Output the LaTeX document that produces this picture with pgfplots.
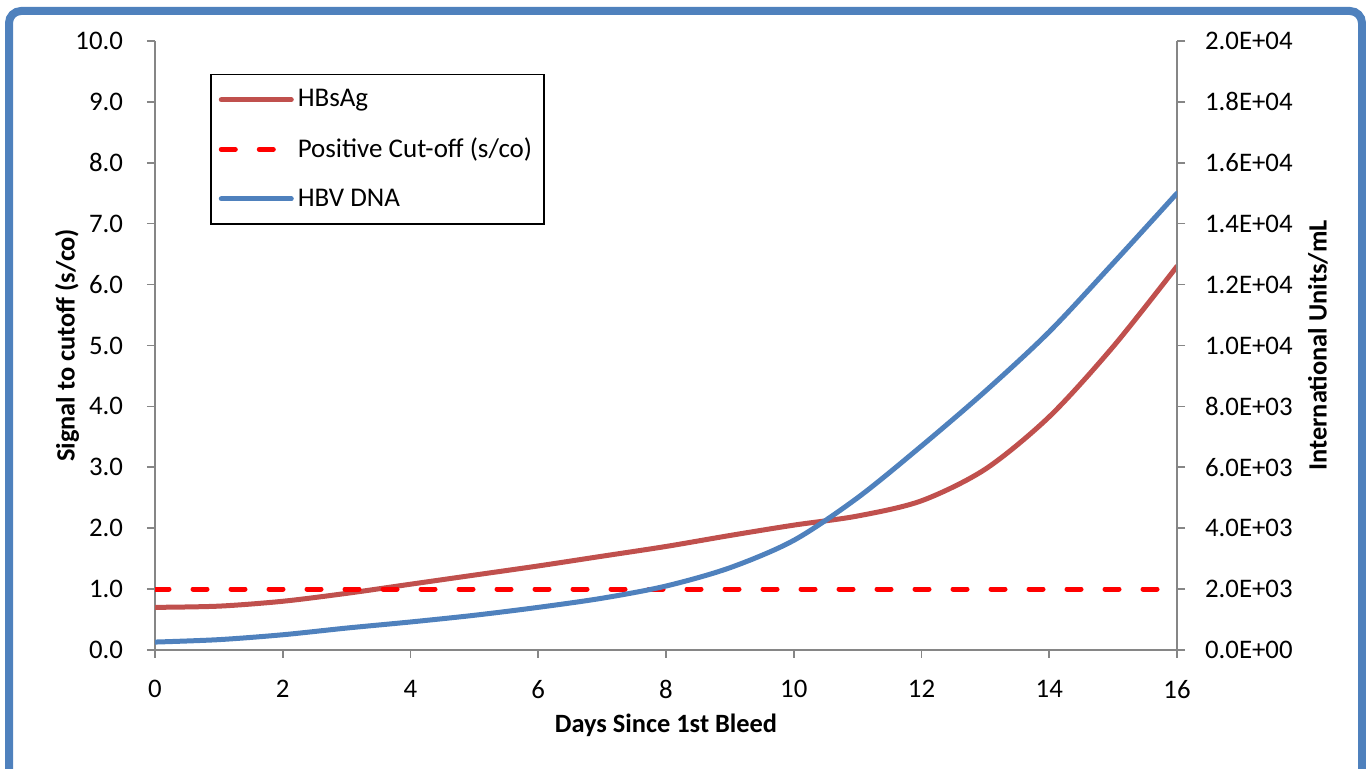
\documentclass[border=0pt]{standalone}
\usepackage{pgfplots}
\pgfplotsset{compat=1.18}
\usepackage{fontspec}
\setmainfont{Carlito}
\definecolor{hbsag}{HTML}{C0504D}
\definecolor{hbv}{HTML}{4F81BD}
\definecolor{axgray}{HTML}{868686}

% 1 px of the reference = 0.5pt
\begin{document}
\begin{tikzpicture}
\useasboundingbox (0,0) rectangle (683pt,384.5pt);
\draw[hbv, line width=4pt, rounded corners=6pt]
  (4.5pt,-10pt) -- (4.5pt,379pt) -- (681pt,379pt) -- (681pt,-10pt);

\pgfplotsset{
  every axis/.append style={
    scale only axis, width=511pt, height=304.5pt,
    at={(77.5pt,59.5pt)}, anchor=south west,
    font=\fontsize{13.4}{16}\selectfont,
    axis line style={-, axgray, line width=0.8pt},
    major tick style={axgray, line width=0.8pt},
    major tick length=4pt, tick align=outside,
    xmin=0, xmax=16,
  },
}

\begin{axis}[
  axis x line*=bottom, axis y line*=left,
  ymin=0, ymax=10,
  xtick={0,2,...,16},
  ytick={0,1,...,10},
  yticklabels={0.0,1.0,2.0,3.0,4.0,5.0,6.0,7.0,8.0,9.0,10.0},
  /pgf/number format/assume math mode=true,
  xticklabel style={yshift=-7.5pt},
  yticklabel style={xshift=-8.5pt},
  xlabel={\bfseries Days Since 1st Bleed},
  ylabel={\bfseries Signal to cutoff (s/co)},
  label style={font=\fontsize{13.2}{16}\selectfont},
  xlabel style={at={(axis description cs:0.5,-0.123)}, anchor=center},
  ylabel style={at={(axis description cs:-0.086,0.5)}, anchor=center},
  legend style={at={(rel axis cs:0.0538,0.946)}, anchor=north west,
    draw=black, line width=0.8pt, inner xsep=4pt, inner ysep=5.5pt,
    row sep=10pt, cells={anchor=west},
    font=\fontsize{13.5}{16}\selectfont},
  legend image code/.code={\draw[#1] (0pt,0pt) -- (35pt,0pt);},
]
\addplot[hbsag, line width=2.5pt, smooth, line cap=round] coordinates {
  (0,0.70) (1,0.72) (2,0.80) (3,0.93) (4,1.08) (5,1.23) (6,1.38)
  (7,1.54) (8,1.70) (9,1.88) (10,2.05) (11,2.20) (12,2.45) (13,2.97)
  (14,3.83) (15,4.98) (16,6.30)
};
\addlegendentry{HBsAg}
\addplot[red, line width=2.5pt, line cap=round, dash pattern=on 7pt off 12pt]
  coordinates {(0,1) (16,1)};
\addlegendentry{Positive Cut-off (s/co)}
\addlegendimage{hbv, line width=2.5pt, line cap=round}
\addlegendentry{HBV DNA}
\end{axis}

\begin{axis}[
  axis x line=none, axis y line*=right,
  ymin=0, ymax=20000,
  scaled y ticks=false,
  ytick={0,2000,...,20000},
  yticklabels={0.0E+00,2.0E+03,4.0E+03,6.0E+03,8.0E+03,1.0E+04,1.2E+04,1.4E+04,1.6E+04,1.8E+04,2.0E+04},
  yticklabel style={xshift=6.5pt},
  ylabel={\bfseries International Units/mL},
  label style={font=\fontsize{13.2}{16}\selectfont},
  ylabel style={at={(axis description cs:1.138,0.5)}, anchor=center, rotate=0},
]
\addplot[hbv, line width=2.5pt, smooth, line cap=round] coordinates {
  (0,260) (1,340) (2,500) (3,720) (4,920) (5,1140) (6,1400) (7,1700)
  (8,2100) (9,2700) (10,3600) (11,5000) (12,6700) (13,8500) (14,10450)
  (15,12700) (16,15000)
};
\end{axis}
\end{tikzpicture}
\end{document}
